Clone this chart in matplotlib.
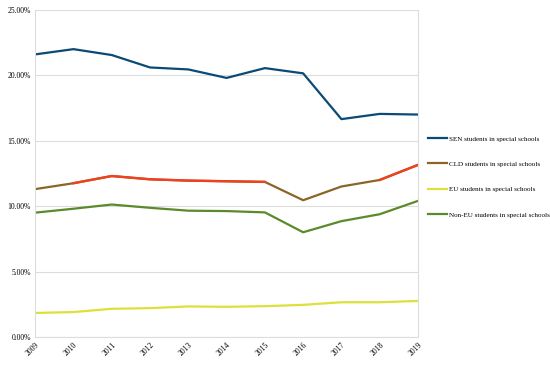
import numpy as np
import matplotlib
matplotlib.use('Agg')
import matplotlib.pyplot as plt

years = [2009, 2010, 2011, 2012, 2013, 2014, 2015, 2016, 2017, 2018, 2019]
sen = [21.6, 22.0, 21.55, 20.6, 20.45, 19.8, 20.55, 20.15, 16.65, 17.05, 17.0]
cld = [11.3, 11.75, 12.3, 12.05, 11.95, 11.9, 11.85, 10.45, 11.5, 12.0, 13.15]
eu = [1.83, 1.9, 2.15, 2.2, 2.33, 2.3, 2.35, 2.45, 2.65, 2.65, 2.75]
non_eu = [9.5, 9.8, 10.12, 9.87, 9.65, 9.62, 9.52, 8.0, 8.85, 9.38, 10.4]
labels = ["SEN students in special schools", "CLD students in special schools",
          "EU students in special schools", "Non-EU students in special schools"]

plt.rcParams['font.family'] = ['Liberation Serif', 'DejaVu Serif']

fig = plt.figure(figsize=(5.5, 3.67), dpi=100)
ax = fig.add_axes([0.064, 0.082, 0.696, 0.891])

x = np.array(years)
ax.plot(x, sen, color='#0b4a76', lw=1.6, label=labels[0])
ax.plot(x, cld, color='#8a6526', lw=1.6, label=labels[1])
# red part of the CLD line, as it shows in the original
red = np.array(cld, dtype=float)
red[[0, 7, 8]] = np.nan
ax.plot(x, red, color='#f0401e', lw=1.7)
ax.plot(x, eu, color='#dde03a', lw=1.6, label=labels[2])
ax.plot(x, non_eu, color='#5b8a2a', lw=1.6, label=labels[3])

ax.set_xlim(2009, 2019)
ax.set_ylim(0, 25)
ax.set_yticks([0, 5, 10, 15, 20, 25])
ax.set_yticklabels(['%.2f%%' % v for v in [0, 5, 10, 15, 20, 25]])
ax.set_xticks(years)
ax.set_xticklabels([str(y) for y in years], rotation=45, ha='right', rotation_mode='anchor')
ax.tick_params(length=0, labelsize=5.5, pad=3)
ax.grid(axis='y', color='#dcdcdc', lw=0.8)
ax.set_axisbelow(True)
for s in ax.spines.values():
    s.set_color('#dcdcdc')
    s.set_linewidth(0.8)
ax.spines['top'].set_visible(False)

ax.legend(loc='center left', bbox_to_anchor=(1.01, 0.49), frameon=False,
          fontsize=5.1, handlelength=2.6, labelspacing=2.75, handletextpad=0.4)

fig.savefig('out.png', dpi=100)
